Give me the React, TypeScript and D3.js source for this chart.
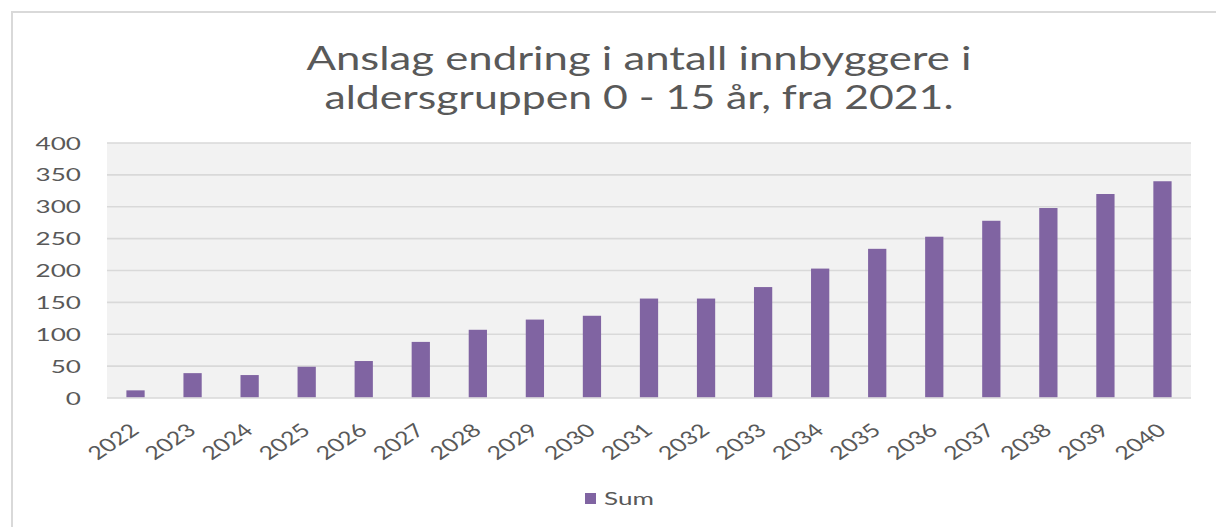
import React, { useEffect, useRef } from 'react';
import * as d3 from 'd3';

const years = ['2022', '2023', '2024', '2025', '2026', '2027', '2028', '2029', '2030', '2031',
  '2032', '2033', '2034', '2035', '2036', '2037', '2038', '2039', '2040'];
const sumValues = [12, 39, 36, 49, 58, 88, 107, 123, 129, 156, 156, 174, 203, 234, 253, 278, 298, 320, 340];
const yTicks = [0, 50, 100, 150, 200, 250, 300, 350, 400];
const titleLines = ['Anslag endring i antall innbyggere i', 'aldersgruppen 0 - 15 år, fra 2021.'];
const seriesName = 'Sum';

const App = () => {
  const ref = useRef<SVGSVGElement>(null);
  const svgWidth = 1216;
  const svgHeight = 527;
  const plot = { left: 107, right: 1191, top: 143, bottom: 398 };
  const sx = 1.45; // the picture is stretched sideways
  const textColor = '#595959';
  const font = 'Lato, "Open Sans", sans-serif';

  useEffect(() => {
    const svg = d3.select(ref.current);
    svg.selectAll('*').remove();

    // chart frame
    svg.append('path')
      .attr('d', `M12,${svgHeight + 5} L12,12 L${svgWidth + 5},12`)
      .attr('fill', 'none')
      .attr('stroke', '#D9D9D9')
      .attr('stroke-width', 2);

    // title
    titleLines.forEach((line, i) => {
      svg.append('text')
        .attr('x', 639)
        .attr('y', 70 + i * 39)
        .attr('text-anchor', 'middle')
        .attr('font-family', font)
        .attr('font-size', 33)
        .attr('fill', textColor)
        .attr('textLength', i === 0 ? 665 : 629)
        .attr('lengthAdjust', 'spacingAndGlyphs')
        .text(line);
    });

    const x = d3.scaleBand()
      .domain(years)
      .range([plot.left, plot.right])
      .paddingInner(0.68)
      .paddingOuter(0.34);

    const y = d3.scaleLinear()
      .domain([0, 400])
      .range([plot.bottom, plot.top]);

    // plot background
    svg.append('rect')
      .attr('x', plot.left)
      .attr('y', plot.top)
      .attr('width', plot.right - plot.left)
      .attr('height', plot.bottom - plot.top)
      .attr('fill', '#F2F2F2');

    // gridlines
    svg.selectAll('line.grid')
      .data(yTicks)
      .enter()
      .append('line')
      .attr('class', 'grid')
      .attr('x1', plot.left)
      .attr('x2', plot.right)
      .attr('y1', d => y(d))
      .attr('y2', d => y(d))
      .attr('stroke', '#D9D9D9')
      .attr('stroke-width', 1.6);

    // y labels
    svg.selectAll('text.ytick')
      .data(yTicks)
      .enter()
      .append('text')
      .attr('class', 'ytick')
      .attr('transform', d => `translate(81,${y(d) + 6.5}) scale(${sx},1)`)
      .attr('text-anchor', 'end')
      .attr('font-family', font)
      .attr('font-size', 18)
      .attr('fill', textColor)
      .text(d => d);

    // bars
    svg.selectAll('rect.bar')
      .data(sumValues)
      .enter()
      .append('rect')
      .attr('class', 'bar')
      .attr('x', (d, i) => x(years[i]))
      .attr('y', d => y(d))
      .attr('width', x.bandwidth())
      .attr('height', d => y(0) - y(d) - 0.8)
      .attr('fill', '#8064A2');

    // x labels, rotated
    svg.selectAll('text.xtick')
      .data(years)
      .enter()
      .append('text')
      .attr('class', 'xtick')
      .attr('transform', d => `translate(${x(d) + x.bandwidth() / 2 + 5},${plot.bottom + 34}) scale(1.35,1) rotate(-42)`)
      .attr('text-anchor', 'end')
      .attr('font-family', font)
      .attr('font-size', 18.5)
      .attr('fill', textColor)
      .text(d => d);

    // legend
    svg.append('rect')
      .attr('x', 585)
      .attr('y', 493)
      .attr('width', 11)
      .attr('height', 11)
      .attr('fill', '#8064A2');

    svg.append('text')
      .attr('transform', `translate(604,505) scale(${sx},1)`)
      .attr('font-family', font)
      .attr('font-size', 18)
      .attr('fill', textColor)
      .text(seriesName);
  }, []);

  return (
    <svg
      ref={ref}
      width={svgWidth}
      height={svgHeight}
      style={{ position: 'absolute', left: 0, top: 0, background: '#fff' }}
    />
  );
};

export default App;
